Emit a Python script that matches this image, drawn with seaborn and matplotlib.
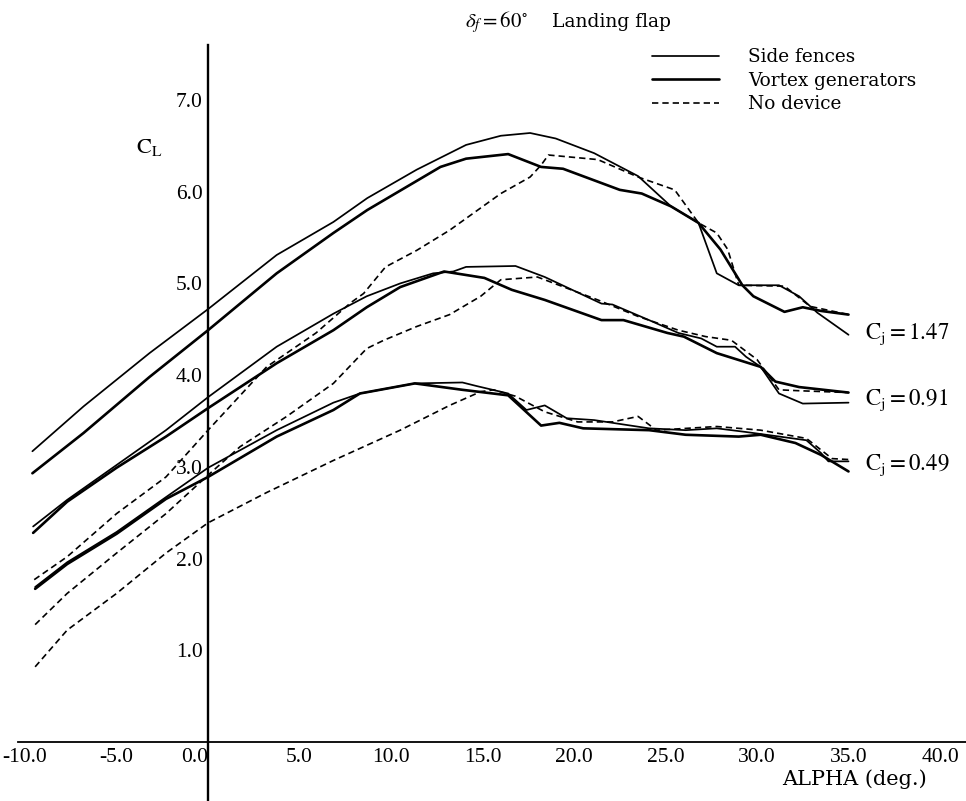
import matplotlib
matplotlib.use("Agg")
import matplotlib.pyplot as plt
import seaborn as sns
from matplotlib.lines import Line2D

# Cj = 1.47
a_147_sf = [-9.6, -6.8, -3.2, 0, 3.75, 6.85, 8.7, 11.4, 14.1, 16.0, 17.6, 19.0, 21.1, 23.5, 25.3, 26.8, 27.8, 29.0, 31.2, 32.3, 33.3, 35.0]
cl_147_sf = [3.17, 3.66, 4.24, 4.72, 5.31, 5.67, 5.93, 6.24, 6.51, 6.61, 6.64, 6.58, 6.42, 6.17, 5.84, 5.66, 5.11, 4.98, 4.98, 4.86, 4.68, 4.44]
a_147_vg = [-9.6, -6.8, -3.2, 0, 3.75, 6.85, 8.7, 12.7, 14.1, 16.4, 18.2, 19.4, 22.5, 23.7, 25.3, 26.8, 28.0, 29.2, 29.8, 31.5, 32.5, 33.5, 35.0]
cl_147_vg = [2.93, 3.37, 3.98, 4.49, 5.11, 5.55, 5.80, 6.27, 6.36, 6.41, 6.27, 6.25, 6.02, 5.98, 5.84, 5.66, 5.37, 4.98, 4.86, 4.69, 4.74, 4.70, 4.66]
a_147_nd = [-9.5, -7.7, -5.0, -2.3, 0, 3.2, 4.3, 5.9, 7.8, 8.5, 9.7, 11.4, 13.2, 16.0, 17.6, 18.2, 18.6, 21.3, 23.5, 25.5, 26.8, 27.8, 28.4, 29.0, 31.5, 32.9, 35.0]
cl_147_nd = [1.77, 2.02, 2.49, 2.89, 3.40, 4.09, 4.24, 4.46, 4.79, 4.89, 5.18, 5.36, 5.58, 5.98, 6.16, 6.29, 6.40, 6.35, 6.16, 6.02, 5.66, 5.55, 5.37, 4.98, 4.97, 4.75, 4.66]

# Cj = 0.91
a_091_sf = [-9.56, -7.7, -5, -2.3, 0, 3.75, 6.85, 8.67, 10.5, 12.3, 13.4, 14.1, 16.8, 18.4, 21.5, 22.1, 24.1, 25.7, 26.95, 27.8, 28.8, 29.4, 30.2, 31.2, 32.5, 35]
cl_091_sf = [2.35, 2.64, 3.02, 3.40, 3.76, 4.31, 4.67, 4.86, 5.00, 5.11, 5.13, 5.18, 5.19, 5.07, 4.78, 4.77, 4.60, 4.46, 4.40, 4.31, 4.31, 4.20, 4.09, 3.80, 3.69, 3.70]
a_091_vg = [-9.56, -7.7, -5, -2.3, 0, 3.75, 6.85, 8.67, 10.5, 12.9, 15.1, 16.6, 18.4, 21.5, 22.7, 25.1, 26.0, 27.8, 30.2, 31.0, 32.3, 35]
cl_091_vg = [2.28, 2.62, 2.99, 3.33, 3.64, 4.13, 4.49, 4.74, 4.96, 5.13, 5.06, 4.93, 4.82, 4.60, 4.60, 4.46, 4.42, 4.24, 4.09, 3.93, 3.87, 3.81]
a_091_nd = [-9.45, -7.7, -5, -2.3, 0, 1.75, 4.3, 6.85, 8.67, 9.6, 11.4, 13.2, 14.9, 16.0, 18.0, 21.3, 23.5, 25.7, 27.2, 28.6, 30.0, 31.2, 32.3, 35]
cl_091_nd = [1.28, 1.62, 2.06, 2.49, 2.91, 3.22, 3.55, 3.91, 4.29, 4.38, 4.53, 4.66, 4.86, 5.04, 5.07, 4.82, 4.64, 4.49, 4.42, 4.38, 4.17, 3.84, 3.83, 3.81]

# Cj = 0.49
a_049_sf = [-9.45, -7.7, -5, -2.3, 0, 3.75, 6.85, 8.3, 11.3, 13.9, 14.7, 16.4, 17.4, 18.4, 19.6, 21.1, 24.1, 26.1, 27.8, 29.4, 32.7, 33.5, 33.9, 35]
cl_049_sf = [1.69, 1.96, 2.29, 2.67, 2.99, 3.40, 3.70, 3.80, 3.91, 3.92, 3.88, 3.80, 3.62, 3.67, 3.53, 3.51, 3.42, 3.40, 3.42, 3.38, 3.29, 3.15, 3.06, 3.06]
a_049_vg = [-9.45, -7.7, -5, -2.3, 0, 3.75, 6.85, 8.3, 11.3, 13.9, 16.4, 18.2, 19.2, 20.5, 24.1, 26.1, 29.0, 30.2, 32.1, 33.5, 35]
cl_049_vg = [1.67, 1.94, 2.27, 2.65, 2.89, 3.33, 3.62, 3.80, 3.91, 3.84, 3.78, 3.45, 3.48, 3.42, 3.40, 3.35, 3.33, 3.35, 3.26, 3.13, 2.95]
a_049_nd = [-9.45, -7.7, -5, -2.3, 0, 3.2, 6.85, 10.5, 13.2, 14.9, 15.6, 16.8, 18.4, 20.2, 22.1, 23.5, 24.5, 27.8, 30.2, 32.7, 34.1, 35]
cl_049_nd = [0.82, 1.22, 1.62, 2.06, 2.39, 2.72, 3.07, 3.40, 3.67, 3.82, 3.84, 3.77, 3.60, 3.49, 3.49, 3.55, 3.40, 3.44, 3.40, 3.31, 3.09, 3.08]

x_ticks = [-10, -5, 0, 5, 10, 15, 20, 25, 30, 35, 40]
x_tick_labels = ["-10.0", "-5.0", "0.0", "5.0", "10.0", "15.0", "20.0", "25.0", "30.0", "35.0", "40.0"]
y_ticks = [1, 2, 3, 4, 5, 6, 7]
y_tick_labels = ["1.0", "2.0", "3.0", "4.0", "5.0", "6.0", "7.0"]
device_names = ["Side fences", "Vortex generators", "No device"]
cj_names = [r"$\mathrm{C_j}=1.47$", r"$\mathrm{C_j}=0.91$", r"$\mathrm{C_j}=0.49$"]
cj_label_pos = [4.45, 3.73, 3.02]

sns.set_theme(style="white")
plt.rcParams['font.family'] = ['Liberation Serif', 'DejaVu Serif']
plt.rcParams['mathtext.fontset'] = 'stix'
plt.rcParams['text.color'] = 'black'
word_font = ['DejaVu Serif']

fig = plt.figure(figsize=(9.66, 8.01), dpi=100)
ax = fig.add_axes([0, 0, 1, 1])
ax.set_facecolor("white")

thin = dict(color="black", linewidth=1.25)
thick = dict(color="black", linewidth=1.9)
dash = dict(color="black", linewidth=1.2, linestyle=(0, (3.8, 2.4)))

curves = [
    (a_147_sf, cl_147_sf, thin), (a_147_vg, cl_147_vg, thick), (a_147_nd, cl_147_nd, dash),
    (a_091_sf, cl_091_sf, thin), (a_091_vg, cl_091_vg, thick), (a_091_nd, cl_091_nd, dash),
    (a_049_sf, cl_049_sf, thin), (a_049_vg, cl_049_vg, thick), (a_049_nd, cl_049_nd, dash),
]
for a, cl, st in curves:
    sns.lineplot(x=a, y=cl, ax=ax, sort=False, estimator=None, **st)

ax.set_xlim(-11.37, 41.42)
ax.set_ylim(-0.643, 8.09)

# axes cross at the origin
for s in ["top", "right"]:
    ax.spines[s].set_visible(False)
ax.spines["left"].set_position(("data", 0))
ax.spines["bottom"].set_position(("data", 0))
ax.spines["left"].set_bounds(-0.65, 7.6)
ax.spines["bottom"].set_bounds(-10.4, 41.4)
ax.spines["left"].set_linewidth(1.7)
ax.spines["bottom"].set_linewidth(1.3)
ax.spines["left"].set_color("black")
ax.spines["bottom"].set_color("black")

ax.set_xticks(x_ticks)
ax.set_xticklabels(x_tick_labels, fontsize=15.5)
ax.set_yticks(y_ticks)
ax.set_yticklabels(y_tick_labels, fontsize=15.5)
ax.tick_params(axis="both", direction="in", length=6, width=1.1, colors="black", pad=4)
ax.get_xticklabels()[2].set_ha("right")
ax.set_xlabel("")
ax.set_ylabel("")

ax.text(35.3, -0.41, "ALPHA (deg.)", fontsize=15, family=word_font, ha="center", va="center")
ax.text(-3.2, 6.48, r"$\mathrm{C_L}$", fontsize=16, ha="center", va="center")
for name, yv in zip(cj_names, cj_label_pos):
    ax.text(35.9, yv, name, fontsize=16.5, ha="left", va="center")

fig.text(528 / 966, 0.972, r"$\delta_f=60^{\circ}$", fontsize=15, ha="right", va="center")
fig.text(552 / 966, 0.972, "Landing flap", fontsize=13.5, family=word_font, ha="left", va="center")

handles = [Line2D([], [], **thin), Line2D([], [], **thick), Line2D([], [], **dash)]
leg = ax.legend(handles, device_names, loc="upper left", bbox_to_anchor=(652 / 966, 1 - 48 / 801),
                bbox_transform=fig.transFigure, frameon=False, handlelength=3.6,
                handletextpad=1.6, labelspacing=0.3, borderpad=0, borderaxespad=0,
                prop={"family": word_font, "size": 13.3})
for t in leg.get_texts():
    t.set_color("black")

fig.savefig("out.png", dpi=100)
